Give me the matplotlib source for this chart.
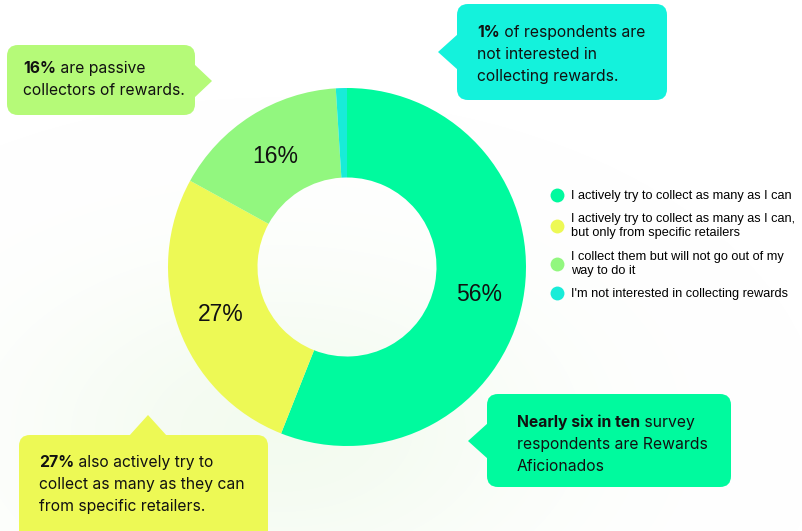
import matplotlib
matplotlib.use("Agg")
import matplotlib.pyplot as plt
import numpy as np
from matplotlib.patches import FancyBboxPatch, Polygon
from matplotlib.lines import Line2D

W, H = 802, 531

# survey answers
shares = [56, 27, 16, 1]
answers = [
    "I actively try to collect as many as I can",
    "I actively try to collect as many as I can,\nbut only from specific retailers",
    "I collect them but will not go out of my\nway to do it",
    "I'm not interested in collecting rewards",
]
colors = ["#00fa9e", "#edf955", "#92f77f", "#18ecd8"]

# callouts: bold lead, rest of first line, following lines
callout_bold = ["16%", "1%", "27%", "Nearly six in ten"]
callout_rest = [" are passive", " of respondents are", " also actively try to", " survey"]
callout_more = [
    ["collectors of rewards."],
    ["not interested in", "collecting rewards."],
    ["collect as many as they can", "from specific retailers."],
    ["respondents are Rewards", "Aficionados"],
]
callout_colors = ["#b5fa78", "#14f2dc", "#edf955", "#00fa9e"]


def fy(y):
    # pixel rows counted from the top
    return H - y


fig = plt.figure(figsize=(W / 100, H / 100), dpi=100)
ax = fig.add_axes([0, 0, 1, 1])

# faint haze behind the lower half of the ring
gx, gy = np.meshgrid(np.arange(W), np.arange(H))
d = np.hypot((gx - 280) / 260.0, (gy - 430) / 160.0)
glow = np.zeros((H, W, 4))
glow[..., 0] = 0.85
glow[..., 1] = 0.95
glow[..., 2] = 0.80
glow[..., 3] = 0.3 * np.exp(-d ** 2)
ax.imshow(glow, extent=(0, W, 0, H), origin="upper", zorder=0)

cx, cy, r = 347, fy(267), 179
wedges, _, pct_labels = ax.pie(
    shares, colors=colors, startangle=90, counterclock=False,
    center=(cx, cy), radius=r, autopct="%.0f%%", pctdistance=0.75,
    wedgeprops=dict(width=r * 0.5, linewidth=0),
    textprops=dict(fontsize=16.5, family="Liberation Sans", color="#111111"),
)
for w in wedges:
    w.set_zorder(2)
for t in pct_labels:
    t.set_zorder(3)
    t.set_verticalalignment("center_baseline")
pct_labels[3].set_visible(False)

# callout boxes (x0, y0, x1, y1) and pointer triangles, pixel coords
boxes = [(7, 45, 195, 115), (457, 4, 667, 100), (19, 435, 268, 545), (487, 394, 731, 487)]
pointers = [
    [(194, 64), (212, 81), (194, 98)],
    [(458, 34), (438, 52), (458, 70)],
    [(129, 436), (148, 415), (167, 436)],
    [(488, 423), (468, 441), (488, 459)],
]
text_pos = [(23, 73), (477, 37), (39, 467), (517, 427)]

for i in range(4):
    x0, y0, x1, y1 = boxes[i]
    box = FancyBboxPatch((x0, fy(y1)), x1 - x0, y1 - y0,
                         boxstyle="round,pad=0,rounding_size=11",
                         fc=callout_colors[i], ec="none", zorder=4)
    ax.add_patch(box)
    ax.add_patch(Polygon([(px, fy(py)) for px, py in pointers[i]],
                         closed=True, fc=callout_colors[i], ec="none", zorder=4))

fig.canvas.draw()
renderer = fig.canvas.get_renderer()
for i in range(4):
    tx, ty = text_pos[i]
    b = ax.text(tx, fy(ty), callout_bold[i], fontsize=11.3, family="Inter",
                fontweight="bold", color="#111111", zorder=5)
    bw = b.get_window_extent(renderer).width
    ax.text(tx + bw, fy(ty), callout_rest[i], fontsize=11.3, family="Inter",
            color="#111111", zorder=5)
    for k, line in enumerate(callout_more[i]):
        ax.text(tx, fy(ty + 22 * (k + 1)), line, fontsize=11.3, family="Inter",
                color="#111111", zorder=5)

handles = [Line2D([], [], ls="none", marker="o", ms=10, mfc=c, mec="none")
           for c in colors]
leg = ax.legend(handles, answers, loc="upper left",
                bbox_to_anchor=(551 / W, 1 - 190 / H), frameon=False,
                prop=dict(family="Liberation Sans", size=9.2),
                handlelength=1.0, handletextpad=0.6, labelspacing=0.9,
                borderpad=0, borderaxespad=0)
leg.set_zorder(6)

ax.set_xlim(0, W)
ax.set_ylim(0, H)
ax.set_aspect("auto")
ax.axis("off")

fig.savefig("out.png", dpi=100, facecolor="white")
